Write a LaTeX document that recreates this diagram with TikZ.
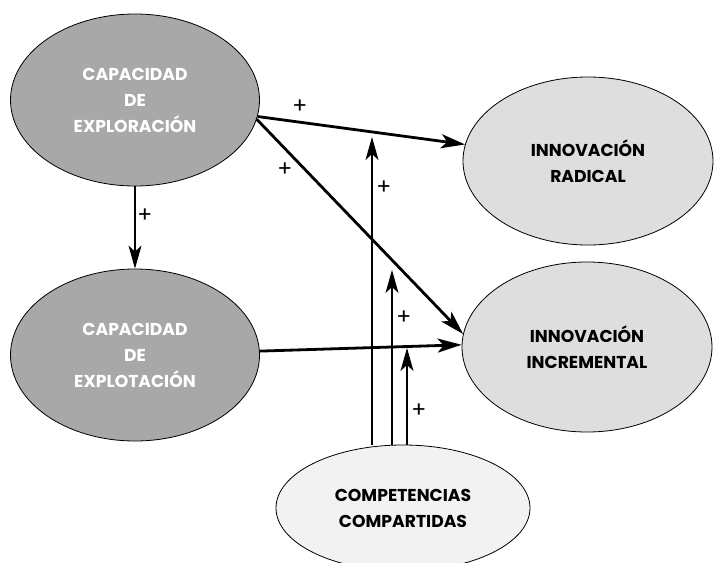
\documentclass[tikz,border=0pt]{standalone}
\usepackage{fontspec}
\setmainfont{Poppins}
\usetikzlibrary{shapes.geometric,arrows.meta}

\definecolor{darkfill}{HTML}{A8A8A8}
\definecolor{midfill}{HTML}{DEDEDE}
\definecolor{lightfill}{HTML}{F2F2F2}

\begin{document}
\begin{tikzpicture}[x=0.5pt,y=-0.5pt]
		\tikzstyle {blob} = [ellipse, draw, line width=0.4pt, inner sep=0pt, align=center,
			font=\bfseries\fontsize{8.6}{13}\selectfont]
		\tikzstyle {cap blob} = [blob, fill=darkfill, text=white,
			minimum width=124.5pt, minimum height=86pt]
		\tikzstyle {out blob} = [blob, fill=midfill, minimum width=125pt, minimum height=84pt]
		\tikzstyle {strong} = [line width=1.4pt, -{Stealth[length=12pt,width=7pt,inset=3pt]}]
		\tikzstyle {weak} = [line width=0.55pt, -{Stealth[length=11.5pt,width=6.5pt,inset=3pt]}]
		\tikzstyle {sign} = [font=\fontsize{11}{12}\selectfont, inner sep=0pt]

		\useasboundingbox (0,0) rectangle (714,563);

		\node[cap blob] (explor) at (135,100) {CAPACIDAD\\DE\\EXPLORACIÓN};
		\node[cap blob] (explot) at (135,355) {CAPACIDAD\\DE\\EXPLOTACIÓN};
		\node[out blob] (radical) at (588,161) {INNOVACIÓN\\RADICAL};
		\node[out blob, minimum height=85pt] (incremental) at (587,347) {INNOVACIÓN\\INCREMENTAL};
		\node[blob, fill=lightfill, minimum width=127pt, minimum height=63pt] (compet) at (403,508)
			{COMPETENCIAS\\COMPARTIDAS};

		\draw[weak] (explor.south) -- (explot.north);
		\draw[strong] (explor) -- (radical);
		\draw[strong] (explor.351) -- (incremental.174);
		\draw[strong] (explot) -- (incremental.179);

		\coordinate (mod radical) at (372,137);
		\coordinate (mod explor) at (392,270);
		\coordinate (mod explot) at (407,348);
		\draw[weak] (compet.north -| mod radical) -- (mod radical);
		\draw[weak] (compet.north -| mod explor) -- (mod explor);
		\draw[weak] (compet.north -| mod explot) -- (mod explot);

		\node[sign] (s1) at (300,107) {+};
		\node[sign] (s2) at (285,170) {+};
		\node[sign] (s3) at (145,216) {+};
		\node[sign] (s4) at (384,188) {+};
		\node[sign] (s5) at (404,318) {+};
		\node[sign] (s6) at (419,411) {+};
	\end{tikzpicture}
\end{document}
